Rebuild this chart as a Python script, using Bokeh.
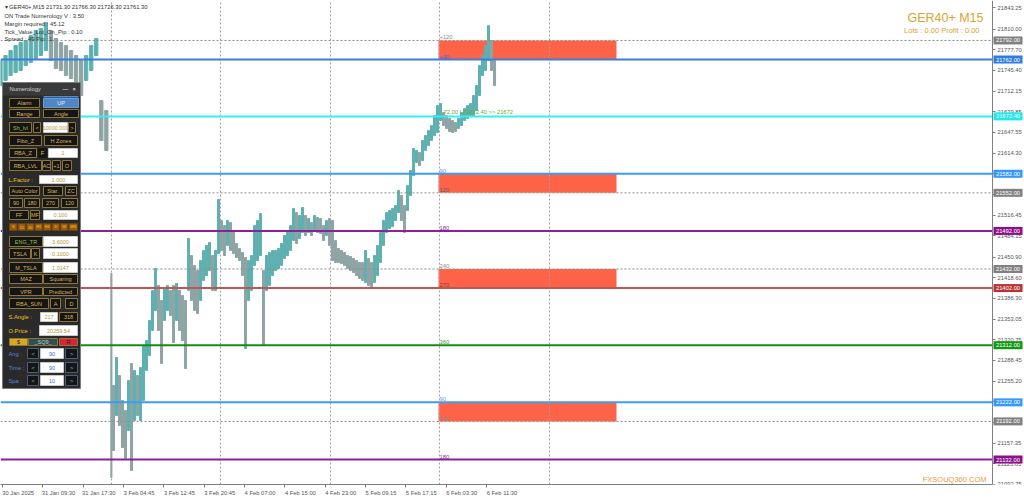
import numpy as np
from bokeh.plotting import figure
from bokeh.models import Range1d, FixedTicker, ColumnDataSource, NumeralTickFormatter
from bokeh.core.properties import value
from bokeh.embed import file_html
from bokeh.resources import INLINE

FONT = "Liberation Sans"

# ---------------- data (GER40+ M15) ----------------
# readings before the weekend (one per 4 bars)
seg1_high = [21760.4, 21768.3, 21776.2, 21784.1, 21788.8, 21791.9, 21799.8, 21807.7, 21810.8, 21820.3, 21807.7,
             21795.1, 21788.8, 21784.1, 21776.2, 21768.3, 21760.4, 21768.3, 21784.1, 21795.1, 21697.4, 21681.7]
seg1_low = [21721.0, 21728.9, 21736.8, 21741.5, 21744.7, 21752.6, 21757.3, 21763.6, 21768.3, 21776.2, 21760.4,
            21747.8, 21744.7, 21736.8, 21732.1, 21725.8, 21705.3, 21728.9, 21744.7, 21768.3, 21634.4, 21618.7]
# monday opening bar
gap_high = 21425.0
gap_low = 21103.6
# readings after the gap (about one per 2.4 bars)
seg2_high = [
    21248.6, 21292.6, 21264.3, 21224.9, 21209.2, 21256.4, 21283.2, 21272.2, 21264.3, 21276.9,
    21311.6, 21319.4, 21350.9, 21398.2, 21432.8, 21406.1, 21382.4, 21402.9, 21406.1, 21398.2,
    21406.1, 21409.2, 21398.2, 21390.3, 21382.4, 21480.1, 21453.3, 21437.6, 21429.7, 21445.4,
    21461.2, 21469.1, 21473.8, 21453.3, 21461.2, 21541.5, 21508.4, 21500.6, 21508.4, 21505.3,
    21492.7, 21472.2, 21464.3, 21458.0, 21450.1, 21445.4, 21453.3, 21500.6, 21508.4, 21519.4,
    21429.7, 21453.3, 21458.0, 21461.2, 21461.2, 21464.3, 21472.2, 21484.8, 21492.7, 21500.6,
    21527.3, 21521.0, 21516.3, 21528.9, 21516.3, 21511.6, 21505.3, 21516.3, 21513.1, 21511.6,
    21500.6, 21508.4, 21511.6, 21508.4, 21476.9, 21464.3, 21461.2, 21458.0, 21453.3, 21451.7,
    21448.6, 21445.4, 21442.3, 21442.3, 21461.2, 21448.6, 21442.3, 21453.3, 21469.1, 21489.5,
    21508.4, 21521.0, 21524.2, 21527.3, 21532.0, 21555.7, 21547.8, 21532.0, 21563.5, 21587.2,
    21621.8, 21618.7, 21615.5, 21634.4, 21642.3, 21650.2, 21658.0, 21673.8, 21689.6, 21692.7,
    21678.5, 21673.8, 21669.1, 21665.9, 21662.8, 21669.1, 21678.5, 21684.8, 21689.6, 21692.7,
    21705.3, 21721.0, 21752.6, 21768.3, 21784.1, 21815.6, 21791.9, 21760.4]
seg2_low = [
    21146.2, 21201.3, 21185.6, 21150.9, 21133.6, 21177.7, 21114.7, 21193.4, 21201.3, 21193.4,
    21224.9, 21272.2, 21295.8, 21335.2, 21366.7, 21335.2, 21283.2, 21350.9, 21366.7, 21358.8,
    21316.3, 21350.9, 21335.2, 21319.4, 21275.3, 21398.2, 21382.4, 21366.7, 21362.0, 21382.4,
    21413.9, 21421.8, 21429.7, 21398.2, 21398.2, 21456.4, 21461.2, 21453.3, 21469.1, 21461.2,
    21456.4, 21450.1, 21445.4, 21421.8, 21306.8, 21382.4, 21398.2, 21437.6, 21445.4, 21453.3,
    21311.6, 21398.2, 21406.1, 21421.8, 21429.7, 21432.8, 21437.6, 21448.6, 21453.3, 21461.2,
    21476.9, 21472.2, 21480.1, 21489.5, 21484.8, 21489.5, 21484.8, 21492.7, 21489.5, 21488.0,
    21476.9, 21484.8, 21469.1, 21445.4, 21442.3, 21442.3, 21440.7, 21437.6, 21432.8, 21429.7,
    21426.5, 21421.8, 21417.1, 21413.9, 21410.8, 21406.1, 21401.3, 21410.8, 21421.8, 21442.3,
    21469.1, 21489.5, 21495.8, 21499.0, 21508.4, 21521.0, 21508.4, 21489.5, 21524.2, 21547.8,
    21579.3, 21599.8, 21595.0, 21602.9, 21618.7, 21626.5, 21634.4, 21642.3, 21647.0, 21665.9,
    21658.0, 21653.3, 21648.6, 21647.0, 21648.6, 21653.3, 21658.0, 21665.9, 21669.1, 21673.8,
    21673.8, 21681.7, 21705.3, 21736.8, 21744.7, 21760.4, 21744.7, 21721.0]

x_tick_labels = ["30 Jan 2025", "31 Jan 09:30", "31 Jan 17:30", "3 Feb 04:45", "3 Feb 12:45", "3 Feb 20:45",
                 "4 Feb 07:00", "4 Feb 15:00", "4 Feb 23:00", "5 Feb 09:15", "5 Feb 17:15", "6 Feb 03:30",
                 "6 Feb 11:30"]
y_tick_values = [21843.25, 21810.00, 21777.70, 21745.40, 21712.15, 21679.85, 21647.55, 21614.30, 21582.00,
                 21549.70, 21516.45, 21484.15, 21450.90, 21418.60, 21386.30, 21353.05, 21320.75, 21288.45,
                 21255.20, 21222.90, 21190.60, 21157.35, 21125.05, 21092.75]

level_prices = [21792.0, 21762.0, 21672.4, 21582.0, 21552.0, 21492.0, 21432.0, 21402.0, 21312.0, 21222.0,
                21192.0, 21132.0]
level_kind = ["grey", "blue", "cyan", "lblue", "grey", "purple", "grey", "red", "green", "lblue", "grey", "purple"]
zone_bottoms = [21762.0, 21552.0, 21402.0, 21192.0]
zone_tops = [21792.0, 21582.0, 21432.0, 21222.0]
angle_prices = [21792.0, 21762.0, 21582.0, 21552.0, 21492.0, 21432.0, 21402.0, 21312.0, 21222.0, 21192.0, 21132.0]
angle_texts = ["+120", "+90", "90", "120", "180", "240", "270", "360", "90", "120", "180"]
angle_kind = ["grey", "blue2", "lblue", "dgrey", "purple", "grey", "dred", "green", "lblue", "grey", "purple"]

# ---------------- geometry / scales ----------------
PX_PER_BAR = 1.26
PRICE_PER_PX = 1.575
AXIS_X = 992
FRAME_H = 484


def bx(px):
    return px / PX_PER_BAR


def py(px):
    return 21762.0 - (px - 59) * PRICE_PER_PX


p = figure(width=1024, height=500, output_backend="svg", toolbar_location=None,
           x_range=Range1d(bx(0), bx(1024)), y_range=Range1d(py(FRAME_H), py(0)),
           y_axis_location="right", min_border_left=0, min_border_top=0, min_border_right=0,
           min_border_bottom=16, background_fill_color="white", border_fill_color="white",
           outline_line_color=None)

# bars (time index in M15 bars)
bars1 = np.arange(0, 4 * len(seg1_high), 4).astype(float)
gap_bar = 88.0
bars2 = 89.7 + 2.381 * np.arange(len(seg2_high))

xs = list(bars1) + [gap_bar] + list(bars2)
hs = seg1_high + [gap_high] + seg2_high
ls = seg1_low + [gap_low] + seg2_low
ws = [2.6] * len(bars1) + [0.9] + [1.6] * len(bars2)
mids = [(a + b) / 2 for a, b in zip(hs, ls)]
cols = ["#5fb0b0"] + ["#5fb0b0" if mids[i] >= mids[i - 1] else "#8fa4a4" for i in range(1, len(mids))]

# zones (background)
p.quad(left=[bx(438)] * 4, right=[bx(616)] * 4, bottom=zone_bottoms, top=zone_tops,
       fill_color="#ff6347", line_color=None, level="image")

p.vbar(x="x", width="w", top="h", bottom="l", color="c",
       source=ColumnDataSource(dict(x=xs, w=ws, h=hs, l=ls, c=cols)))

# level lines (stop at the price axis)
line_style = {
    "grey": ("#8c8c8c", 1, "2 2", "#808080"),
    "blue": ("#3a7fdc", 2, "solid", "#2f7be0"),
    "cyan": ("#2ef2f2", 2, "solid", "#22e6ee"),
    "lblue": ("#3d9cf2", 2, "solid", "#3399ff"),
    "purple": ("#8e1f96", 2, "solid", "#8b108b"),
    "red": ("#c05555", 2, "solid", "#b83232"),
    "green": ("#148c14", 2, "solid", "#119911"),
}
for lv, kd in zip(level_prices, level_kind):
    c, w, d, bc = line_style[kd]
    p.segment(x0=[bx(0)], x1=[bx(AXIS_X)], y0=[lv], y1=[lv], line_color=c, line_width=w, line_dash=d)

angle_colors = {"grey": "#8a8a8a", "blue2": "#5a5ad0", "lblue": "#5aa0f0", "dgrey": "#6a5a5a",
                "purple": "#8e1f96", "dred": "#8b3a3a", "green": "#3a9a3a"}
p.text(x=[bx(439)] * len(angle_prices), y=angle_prices, text=angle_texts,
       text_color=[angle_colors[k] for k in angle_kind], text_font=value(FONT), text_font_size="5.8px",
       text_align="left", text_baseline="bottom", y_offset=-1)
p.text(x=[bx(443)], y=[21672.4], text=["72.00 | 21672.40  >> 21672"], text_color="#6aaa3a",
       text_font=value(FONT), text_font_size="5.8px", text_align="left", text_baseline="bottom", y_offset=-1)

# info texts
info = ["\u25be GER40+,M15  21731.30 21766.30 21726.30 21761.30", "ON Trade Numerology V : 3.50",
        "Margin required : 45.12", "Tick_Value_Lot_On_Pip : 0.10", "Spread : 49  Pip : 1"]
p.text(x=[bx(4)] * 5, y=[py(6), py(15), py(23), py(31), py(38.5)], text=info, text_color="#333333",
       text_font=value(FONT), text_font_size="5.8px", text_align="left", text_baseline="middle")
p.text(x=[bx(983)], y=[py(17)], text=["GER40+ M15"], text_color="#d8a530", text_font=value(FONT),
       text_font_size="12.5px", text_align="right", text_baseline="middle")
p.text(x=[bx(979)], y=[py(30)], text=["Lots : 0.00 Profit : 0.00"], text_color="#d8a530",
       text_font=value(FONT), text_font_size="7.5px", text_align="right", text_baseline="middle")
p.text(x=[bx(986)], y=[py(479)], text=["FXSOUQ360.COM"], text_color="#e0a040", text_font=value(FONT),
       text_font_size="7.5px", text_align="right", text_baseline="middle")

# price boxes on the axis
half_box = 4.0 * PRICE_PER_PX
p.quad(left=[bx(993)] * len(level_prices), right=[bx(1022)] * len(level_prices),
       bottom=[lv - half_box for lv in level_prices], top=[lv + half_box for lv in level_prices],
       fill_color=[line_style[k][3] for k in level_kind], line_color=None, level="overlay")
p.text(x=[bx(1007.5)] * len(level_prices), y=level_prices, text=[f"{lv:.2f}" for lv in level_prices],
       text_color="white", text_font=value(FONT), text_font_size="5.8px", text_align="center",
       text_baseline="middle", level="overlay")

# ---------------- numerology panel ----------------
panel = [
    ("Alarm", 9, 98, 39, 107, "b"), ("UP", 43, 98, 78, 107, "blue"),
    ("Range", 9, 109, 39, 117, "b"), ("Angle", 43, 109, 78, 117, "b"),
    ("Sh_lvl", 9, 122, 31, 132, "g"), ("<", 33, 122, 40, 132, "b"), ("10000.000", 43, 122, 67, 132, "in"),
    (">", 68, 122, 75, 132, "b"),
    ("Fibo_Z", 9, 135, 41, 145, "b"), ("H Zones", 44, 135, 77, 145, "b"),
    ("RBA_Z", 9, 148, 36, 157, "b"), ("F", 38, 148, 46, 157, "lblc"), ("1", 48, 148, 77, 157, "in"),
    ("RBA_LVL", 9, 160, 41, 170, "b"), ("AC", 42, 160, 50, 170, "b"), ("+1", 52, 160, 60, 170, "b"),
    ("O", 62, 160, 71, 170, "b"),
    ("L.Factor :", 8, 175, 37, 183, "lbl"), ("1.000", 39, 175, 77, 183, "in"),
    ("Auto Color", 9, 186, 39, 195, "b"), ("Star.", 43, 186, 62, 195, "b"), ("ZC", 65, 186, 76, 195, "b"),
    ("90", 9, 198, 22, 207, "b"), ("180", 24, 198, 39, 207, "b"), ("270", 42, 198, 58, 207, "b"),
    ("120", 61, 198, 77, 207, "b"),
    ("FF", 9, 210, 28, 219, "b"), ("MF", 30, 210, 39, 219, "b"), ("0.100", 43, 210, 77, 219, "in"),
    ("S", 9, 223, 16.5, 230, "tf"), ("15", 17.5, 223, 25, 230, "tf"), ("30", 26, 223, 33.5, 230, "tf"),
    ("H1", 34.5, 223, 42, 230, "tf"), ("H4", 43, 223, 50.5, 230, "tf"), ("D", 51.5, 223, 59, 230, "tf"),
    ("W", 60, 223, 67.5, 230, "tf"), ("MN", 68.5, 223, 77, 230, "tf"),
    ("ENG_TR", 9, 236, 42, 246, "g"), ("3.6000", 43, 236, 77, 246, "in"),
    ("TSLA", 9, 248, 30, 258, "b"), ("K", 31, 248, 39, 258, "b"), ("0.1000", 43, 248, 77, 258, "in"),
    ("M_TSLA", 9, 262, 42, 272, "b"), ("1.0147", 43, 262, 77, 272, "in"),
    ("MAZ", 9, 274, 42, 283, "b"), ("Squaring", 43, 274, 77, 283, "b"),
    ("VPR", 9, 287, 42, 295, "b"), ("Predicted", 43, 287, 77, 295, "b"),
    ("RBA_SUN", 9, 298, 48, 308, "b"), ("A", 50, 298, 60, 308, "b"), ("D", 65, 298, 77, 308, "b"),
    ("S.Angle :", 8, 312, 37, 321, "lbl"), ("217", 40, 312, 57, 321, "in"), ("318", 59, 312, 77, 321, "b"),
    ("O.Price :", 8, 325, 37, 335, "lbl"), ("20259.54", 39, 325, 77, 335, "in"),
    ("$", 9, 338, 27, 345, "gold"), ("_SQ9_", 28, 338, 57, 345, "teal"), ("R", 59, 338, 77, 345, "red"),
    ("Ang :", 8, 348, 24, 358, "lblb"), ("<", 27, 348, 38, 358, "nav"), ("90", 40, 348, 63, 358, "inb"),
    (">", 65, 348, 77, 358, "nav"),
    ("Time :", 8, 362, 24, 372, "lblb"), ("<", 27, 362, 38, 372, "nav"), ("90", 40, 362, 63, 372, "inb"),
    (">", 65, 362, 77, 372, "nav"),
    ("Spa :", 8, 375, 24, 385, "lblb"), ("<", 27, 375, 38, 385, "nav"), ("10", 40, 375, 63, 385, "inb"),
    (">", 65, 375, 77, 385, "nav"),
]
kind_style = {  # fill, line, text colour, align, font size
    "b": ("#151515", "#8c7535", "#d6b25e", "center", "5.5px"),
    "g": ("#151515", "#8c7535", "#8fc04a", "center", "5.5px"),
    "blue": ("#4f86c6", "#6a9ad6", "#e8f0ff", "center", "5.5px"),
    "in": ("#ffffff", "#c8c8c8", "#b8963a", "center", "5.5px"),
    "inb": ("#ffffff", "#c8c8c8", "#3b6fc0", "center", "5.5px"),
    "lbl": (None, None, "#f0c020", "left", "5.8px"),
    "lblc": ("#151515", None, "#f0c020", "center", "5.8px"),
    "lblb": (None, None, "#5a86d6", "left", "5.8px"),
    "tf": ("#9a5a10", "#6a4010", "#ffd000", "center", "3.8px"),
    "gold": ("#d8a820", "#8c7535", "#202020", "center", "5.5px"),
    "teal": ("#2f4f55", "#8c7535", "#c0d0d0", "center", "5.5px"),
    "red": ("#e02038", "#8c7535", "#202020", "center", "5.5px"),
    "nav": ("#151515", "#4a5f78", "#9fb0c8", "center", "5.5px"),
}
# panel background + header
p.quad(left=[bx(2)], right=[bx(80)], top=[py(82)], bottom=[py(388)], fill_color="#2a2a2a",
       line_color="#7a7a7a", level="overlay")
p.quad(left=[bx(2.5)], right=[bx(79.5)], top=[py(82.5)], bottom=[py(95)], fill_color="#3a3a3a",
       line_color=None, level="overlay")
p.quad(left=[bx(43)], right=[bx(78)], top=[py(95.5)], bottom=[py(97)], fill_color="#4a90d9",
       line_color=None, level="overlay")
p.text(x=[bx(9), bx(62), bx(72)], y=[py(88.5)] * 3, text=["Numerology", "\u2014", "\u00d7"],
       text_color=["#d8d8d8", "#ffffff", "#ffffff"], text_font=value(FONT), text_font_size="5.8px",
       text_align="left", text_baseline="middle", level="overlay")

qd = dict(l=[], r=[], t=[], b=[], f=[], lc=[])
for txt, x0, y0, x1, y1, kd in panel:
    f, lc, tc, al, fs = kind_style[kd]
    if f is not None or lc is not None:
        qd["l"].append(bx(x0)); qd["r"].append(bx(x1)); qd["t"].append(py(y0)); qd["b"].append(py(y1))
        qd["f"].append(f if f is not None else "#2a2a2a"); qd["lc"].append(lc if lc is not None else f)
p.quad(left="l", right="r", top="t", bottom="b", fill_color="f", line_color="lc", line_width=1,
       source=ColumnDataSource(qd), level="overlay")
for al in ("center", "left"):
    for fs in ("5.5px", "5.8px", "3.8px"):
        sel = [it for it in panel if kind_style[it[5]][3] == al and kind_style[it[5]][4] == fs]
        if not sel:
            continue
        tx = [bx((it[1] + it[3]) / 2) if al == "center" else bx(it[1]) for it in sel]
        ty = [py((it[2] + it[4]) / 2) for it in sel]
        p.text(x=tx, y=ty, text=[it[0] for it in sel], text_color=[kind_style[it[5]][2] for it in sel],
               text_font=value(FONT), text_font_size=fs, text_align=al, text_baseline="middle",
               level="overlay")

# ---------------- axes / grid ----------------
label_starts = [1.6 + 32 * i for i in range(len(x_tick_labels))]
label_centers = [int(round(s + 12.3)) for s in label_starts]
p.xaxis.ticker = FixedTicker(ticks=label_centers, minor_ticks=label_starts)
p.xaxis.major_label_overrides = {c: t for c, t in zip(label_centers, x_tick_labels)}
p.xaxis.bounds = (bx(0), bx(AXIS_X))
p.xaxis.axis_line_color = "#808080"
p.xaxis.major_tick_line_color = None
p.xaxis.major_tick_out = 3
p.xaxis.major_tick_in = 0
p.xaxis.minor_tick_line_color = "#808080"
p.xaxis.minor_tick_out = 3
p.xaxis.minor_tick_in = 0
p.xaxis.major_label_standoff = 2
p.xaxis.major_label_text_font = FONT
p.xaxis.major_label_text_font_size = "5.8px"
p.xaxis.major_label_text_color = "#555555"

p.yaxis.fixed_location = bx(AXIS_X)
p.yaxis.ticker = FixedTicker(ticks=y_tick_values, minor_ticks=[])
p.yaxis.formatter = NumeralTickFormatter(format="0.00")
p.yaxis.axis_line_color = "#808080"
p.yaxis.major_tick_line_color = "#808080"
p.yaxis.major_tick_out = 3
p.yaxis.major_tick_in = 0
p.yaxis.minor_tick_line_color = None
p.yaxis.major_label_standoff = 2
p.yaxis.major_label_text_font = FONT
p.yaxis.major_label_text_font_size = "5.8px"
p.yaxis.major_label_text_color = "#555555"

day_separators = [bx(110.5), bx(220), bx(329.5), bx(439), bx(548.5)]
p.xgrid.ticker = FixedTicker(ticks=day_separators)
p.xgrid.grid_line_color = "#a0a0a0"
p.xgrid.grid_line_dash = "2 2"
p.ygrid.grid_line_color = None

open("out.html", "w").write(file_html(p, INLINE))
